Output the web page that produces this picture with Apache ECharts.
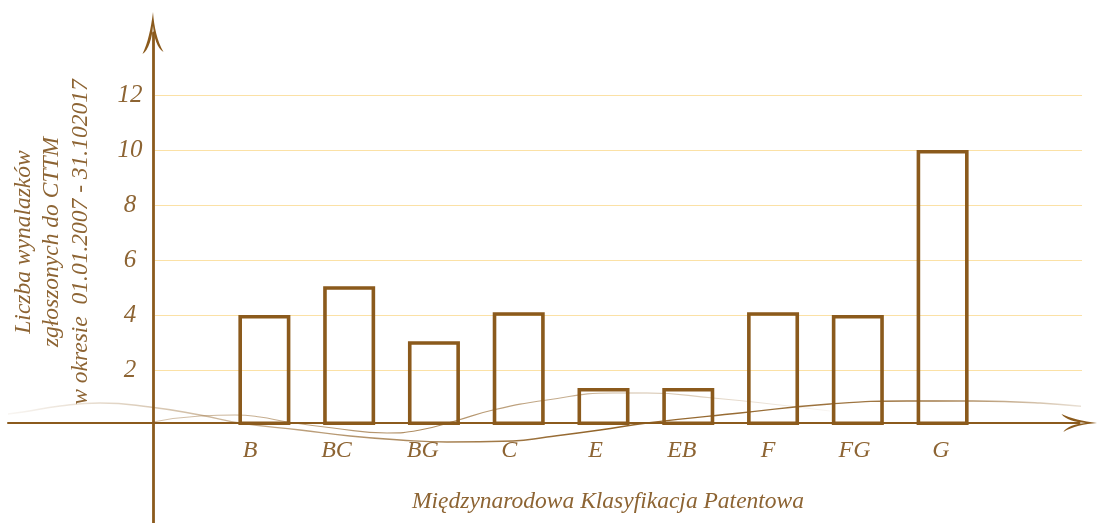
<!DOCTYPE html>
<html>
<head>
<meta charset="utf-8">
<script src="https://cdn.jsdelivr.net/npm/echarts@6/dist/echarts.min.js"></script>
<style>
html,body{margin:0;padding:0;background:#fff;}
#chart{width:1097px;height:523px;}
</style>
</head>
<body>
<div id="chart"></div>
<script>
// ---- data ----
const categories = ['B', 'BC', 'BG', 'C', 'E', 'EB', 'F', 'FG', 'G'];
const counts = [4, 5.05, 3.05, 4.1, 1.35, 1.35, 4.1, 4, 10];
const yTickMin = 0;
const yTickMax = 12;
const yTickStep = 2;
const yAxisTitle = 'Liczba wynalazków\nzgłoszonych do CTTM\nw okresie  01.01.2007 - 31.102017';
const xAxisTitle = 'Międzynarodowa Klasyfikacja Patentowa';
// decorative hand-drawn swashes (page pixels)
const swashDark = [[8,414],[23,412],[60,406],[100,403],[150,407],[200,415],[240,423],[300,430],[350,436],[400,440],[447,442],[513,441],[547,437],[600,430],[647,423],[740,413],[830,404],[907,401],[973,401],[1040,403],[1097,408]];
const swashLight = [[153,422],[200,416],[235,415],[260,417],[287,422],[333,428],[387,433],[420,430],[455,421],[493,410],[547,400],[613,393],[647,393],[713,398],[780,405],[830,411]];

// ---- style ----
const BROWN = '#8b5a1c';
const TEXT = '#8d6433';
const FONT = '"Liberation Serif", "DejaVu Serif", serif';
const GRIDLINE = '#fbe1a6';

// frame mapping: x axis crosses at page x=153, y at page y=423
const AX_X = 153, AX_Y = 423;
const toFrame = p => [p[0] - AX_X, AX_Y - p[1]];

const chevron = 'path://M10,0 C11,14 14,28 20,38 C14,34 11,25 10,13 C9,25 6,36 0,40 C5,30 8,16 10,0 Z';

const chart = echarts.init(document.getElementById('chart'), null, {renderer: 'canvas'});

const option = {
  animation: false,
  backgroundColor: '#ffffff',
  grid: [
    // 0: value scale + gridlines
    {left: 155, right: 15, top: 95, bottom: 98},
    // 1: bars
    {left: 222, right: 112, top: 95, bottom: 98},
    // 2: category labels
    {left: 207, right: 113, top: 95, bottom: 98},
    // 3: frame axes with arrows
    {left: 8, right: 17.5, top: 33, bottom: 0}
  ],
  xAxis: [
    {gridIndex: 0, type: 'value', show: false, min: 0, max: 1},
    {gridIndex: 1, type: 'category', data: categories, show: false},
    {gridIndex: 2, type: 'category', data: categories,
      axisLine: {show: false}, axisTick: {show: false}, splitLine: {show: false},
      axisLabel: {color: TEXT, fontFamily: FONT, fontStyle: 'italic', fontSize: 24, margin: 14}},
    {gridIndex: 3, type: 'value', min: -145, max: 926.5,
      axisLabel: {show: false}, axisTick: {show: false}, splitLine: {show: false},
      axisLine: {show: true, onZero: true, lineStyle: {color: BROWN, width: 2},
        symbol: ['none', chevron], symbolSize: [24, 36]}}
  ],
  yAxis: [
    {gridIndex: 0, type: 'value', min: yTickMin, max: yTickMax, interval: yTickStep,
      axisLine: {show: false}, axisTick: {show: false},
      axisLabel: {color: TEXT, fontFamily: FONT, fontStyle: 'italic', fontSize: 25,
        align: 'center', margin: 25,
        formatter: v => (v === 0 ? '' : String(v))},
      splitLine: {show: true, showMinLine: false, lineStyle: {color: GRIDLINE, width: 1.2}}},
    {gridIndex: 1, type: 'value', min: yTickMin, max: yTickMax, show: false},
    {gridIndex: 2, type: 'value', min: yTickMin, max: yTickMax, show: false},
    {gridIndex: 3, type: 'value', min: -100, max: 390,
      axisLabel: {show: false}, axisTick: {show: false}, splitLine: {show: false},
      axisLine: {show: true, onZero: true, lineStyle: {color: BROWN, width: 2.8},
        symbol: ['none', chevron], symbolSize: [22, 42]}}
  ],
  series: [
    {
      type: 'bar', xAxisIndex: 1, yAxisIndex: 1, data: counts,
      barWidth: 52,
      itemStyle: {color: 'rgba(255,255,255,0)', borderColor: BROWN, borderWidth: 3.6},
      z: 5
    },
    {
      type: 'line', xAxisIndex: 3, yAxisIndex: 3, data: swashDark.map(toFrame),
      smooth: 0.5, showSymbol: false, silent: true, z: 1,
      lineStyle: {width: 1.4, color: new echarts.graphic.LinearGradient(0, 0, 1, 0, [
        {offset: 0, color: 'rgba(139,90,28,0.05)'},
        {offset: 0.25, color: 'rgba(139,90,28,0.55)'},
        {offset: 0.55, color: 'rgba(139,90,28,0.95)'},
        {offset: 0.85, color: 'rgba(139,90,28,0.8)'},
        {offset: 1, color: 'rgba(139,90,28,0.1)'}
      ])}
    },
    {
      type: 'line', xAxisIndex: 3, yAxisIndex: 3, data: swashLight.map(toFrame),
      smooth: 0.5, showSymbol: false, silent: true, z: 1,
      lineStyle: {width: 1.1, color: new echarts.graphic.LinearGradient(0, 0, 1, 0, [
        {offset: 0, color: 'rgba(139,90,28,0.35)'},
        {offset: 0.4, color: 'rgba(139,90,28,0.7)'},
        {offset: 0.75, color: 'rgba(139,90,28,0.35)'},
        {offset: 1, color: 'rgba(139,90,28,0.05)'}
      ])}
    }
  ],
  graphic: [
    {type: 'text', x: 52, y: 242, rotation: Math.PI / 2,
      style: {text: yAxisTitle, fill: TEXT, font: 'italic 23.5px ' + FONT,
        align: 'center', verticalAlign: 'middle', lineHeight: 28.5}},
    {type: 'text', x: 608, y: 502,
      style: {text: xAxisTitle, fill: TEXT, font: 'italic 23.5px ' + FONT,
        align: 'center', verticalAlign: 'middle'}}
  ]
};
chart.setOption(option);
</script>
</body>
</html>
